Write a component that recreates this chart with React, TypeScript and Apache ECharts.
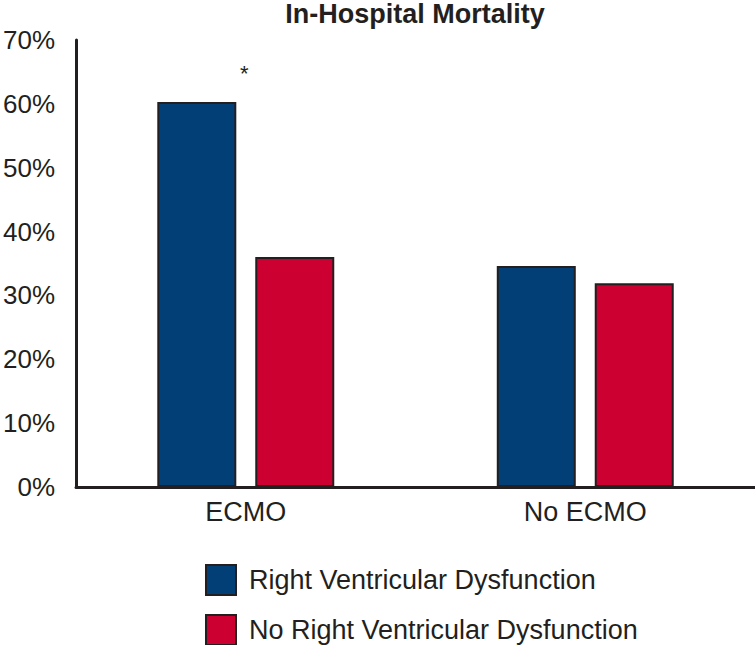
import React, { useEffect, useRef } from "react";
import * as echarts from "echarts";

const categories = ["ECMO", "No ECMO"];
const seriesNames = ["Right Ventricular Dysfunction", "No Right Ventricular Dysfunction"];
const rvdValues = [60.3, 34.6];
const noRvdValues = [36.0, 31.9];
const yTicks = { min: 0, max: 70, interval: 10 };
const significanceMark = "*";

const INK = "#231f20";
const FONT = "'Liberation Sans', Arial, Helvetica, sans-serif";

export default function App() {
  const ref = useRef<HTMLDivElement>(null);
  useEffect(() => {
    if (!ref.current) return;
    const chart = echarts.init(ref.current, null, { renderer: "svg" });
    const barStyle = (color: string) => ({ color, borderColor: INK, borderWidth: 2 });
    const legendFor = (name: string, top: number) => ({
      orient: "horizontal",
      left: 205,
      top,
      itemWidth: 30,
      itemHeight: 30,
      icon: "rect",
      selectedMode: false,
      padding: 0,
      textStyle: {
        fontFamily: FONT,
        fontSize: 27,
        lineHeight: 30,
        color: INK,
        padding: [0, 0, 0, 8],
      },
      data: [name],
    });
    chart.setOption({
      animation: false,
      backgroundColor: "#ffffff",
      title: {
        text: "In-Hospital Mortality",
        left: 415,
        textAlign: "center",
        top: 0,
        padding: 0,
        textStyle: { fontFamily: FONT, fontWeight: "bold", fontSize: 27, color: INK },
      },
      grid: { left: 75, right: 0, top: 40, bottom: 158, containLabel: false },
      legend: [legendFor(seriesNames[0], 564), legendFor(seriesNames[1], 614)],
      xAxis: {
        type: "category",
        data: categories,
        axisLine: { show: true, lineStyle: { color: INK, width: 3 } },
        axisTick: { show: false },
        axisLabel: { fontFamily: FONT, fontSize: 27, color: INK, margin: 11 },
      },
      yAxis: {
        type: "value",
        min: yTicks.min,
        max: yTicks.max,
        interval: yTicks.interval,
        axisLine: { show: true, lineStyle: { color: INK, width: 3 } },
        axisTick: { show: false },
        splitLine: { show: false },
        axisLabel: { fontFamily: FONT, fontSize: 26, color: INK, margin: 21, formatter: "{value}%" },
      },
      series: [
        {
          name: seriesNames[0],
          type: "bar",
          barWidth: 79,
          barGap: "24%",
          itemStyle: barStyle("#023f77"),
          data: rvdValues.map((v, i) =>
            i === 0
              ? {
                  value: v,
                  label: {
                    show: true,
                    position: "top",
                    formatter: significanceMark,
                    offset: [47.5, -12],
                    fontFamily: FONT,
                    fontSize: 22,
                    color: INK,
                  },
                }
              : v
          ),
        },
        {
          name: seriesNames[1],
          type: "bar",
          barWidth: 79,
          itemStyle: barStyle("#cc0031"),
          data: noRvdValues,
        },
      ],
    });
    return () => chart.dispose();
  }, []);
  return (
    <div
      ref={ref}
      style={{ position: "fixed", left: 0, top: 0, width: 755, height: 645, background: "#fff" }}
    />
  );
}
